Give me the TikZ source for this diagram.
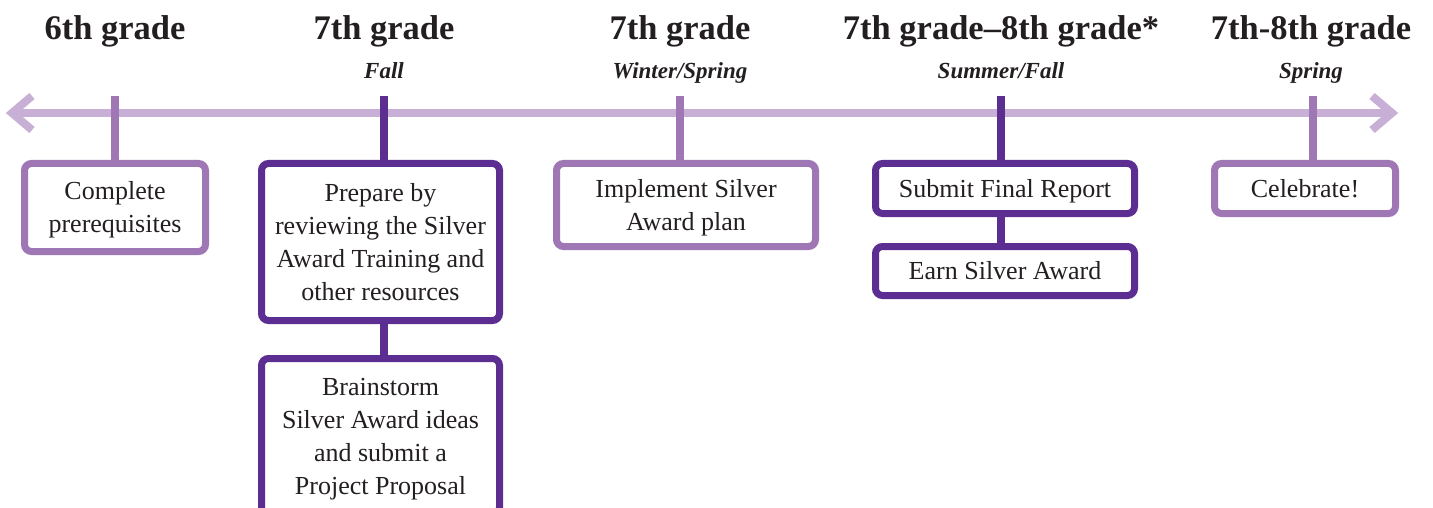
\documentclass[tikz,border=0pt]{standalone}
\usepackage{fontspec}
\setmainfont{Liberation Serif}
\definecolor{lightpurple}{HTML}{C8AFD6}
\definecolor{midpurple}{HTML}{9F77B5}
\definecolor{darkpurple}{HTML}{5C2E91}
\definecolor{inktext}{HTML}{231F20}
\begin{document}
\begin{tikzpicture}[x=1pt,y=-1pt,
  heading/.style={anchor=base,inner sep=0,text=inktext,font=\fontsize{34.5}{40}\selectfont\bfseries},
  season/.style={anchor=base,inner sep=0,text=inktext,font=\fontsize{23}{28}\selectfont\bfseries\itshape},
  stepbox/.style={draw,fill=white,rounded corners=7pt,line width=7pt,inner sep=0,align=center,
    text=inktext,font=\fontsize{26}{33}\selectfont,text depth=0pt},
  oneline/.style={text height=17pt},
  twolines/.style={text height=50pt},
  fourlines/.style={text height=116pt},
  midbox/.style={stepbox,draw=midpurple},
  darkbox/.style={stepbox,draw=darkpurple},
  timeline/.style={draw=lightpurple,line width=8pt},
  chevron/.style={draw=lightpurple,line width=8pt,line join=miter,line cap=butt},
  midtick/.style={draw=midpurple,line width=8pt},
  darktick/.style={draw=darkpurple,line width=8pt}]
\useasboundingbox (0,0) rectangle (1433,508);
\clip (0,0) rectangle (1433,508);

% timeline
\coordinate (lend) at (12,113);
\coordinate (rend) at (1392,113);
\path[timeline] (lend) -- (rend);
\path[chevron] (32,96) -- (lend) -- (32,130);
\path[chevron] (1372,96) -- (rend) -- (1372,130);

% headings
\node[heading] (h1) at (115,40) {6th grade};
\node[heading] (h2) at (384,40) {7th grade};
\node[heading] (h3) at (680,40) {7th grade};
\node[heading] (h4) at (1001,40) {7th grade--8th grade*};
\node[heading] (h5) at (1311,40) {7th-8th grade};

\node[season] (s2) at (384,79) {Fall};
\node[season] (s3) at (680,79) {Winter/Spring};
\node[season] (s4) at (1001,79) {Summer/Fall};
\node[season] (s5) at (1311,79) {Spring};

% tick tops
\coordinate (t1) at (115,96);
\coordinate (t2) at (384,96);
\coordinate (t3) at (680,96);
\coordinate (t4) at (1001,96);
\coordinate (t5) at (1313,96);

% boxes
\node[midbox, twolines, minimum width=181pt, minimum height=88pt] (pre) at (115,207.5)
  {Complete\\prerequisites};
\node[darkbox, fourlines, minimum width=238pt, minimum height=157pt] (prep) at (380.5,242)
  {Prepare by\\reviewing the Silver\\Award Training and\\other resources};
\node[darkbox, fourlines, minimum width=238pt, minimum height=156pt] (brain) at (380.5,436.5)
  {Brainstorm\\Silver Award ideas\\and submit a\\Project Proposal};
\node[midbox, twolines, minimum width=259pt, minimum height=83pt] (impl) at (686,205)
  {Implement Silver\\Award plan};
\node[darkbox, oneline, minimum width=259pt, minimum height=50pt] (submit) at (1005,188.5)
  {Submit Final Report};
\node[darkbox, oneline, minimum width=259pt, minimum height=49pt] (earn) at (1005,271)
  {Earn Silver Award};
\node[midbox, oneline, minimum width=181pt, minimum height=50pt] (cel) at (1305,188.5)
  {Celebrate!};

% connectors
\path[midtick] (t1) -- (t1 |- pre.north);
\path[darktick] (t2) -- (t2 |- prep.north);
\path[midtick] (t3) -- (t3 |- impl.north);
\path[darktick] (t4) -- (t4 |- submit.north);
\path[midtick] (t5) -- (t5 |- cel.north);
\path[darktick] (prep.south -| t2) -- (brain.north -| t2);
\path[darktick] (submit.south -| t4) -- (earn.north -| t4);
\end{tikzpicture}
\end{document}
